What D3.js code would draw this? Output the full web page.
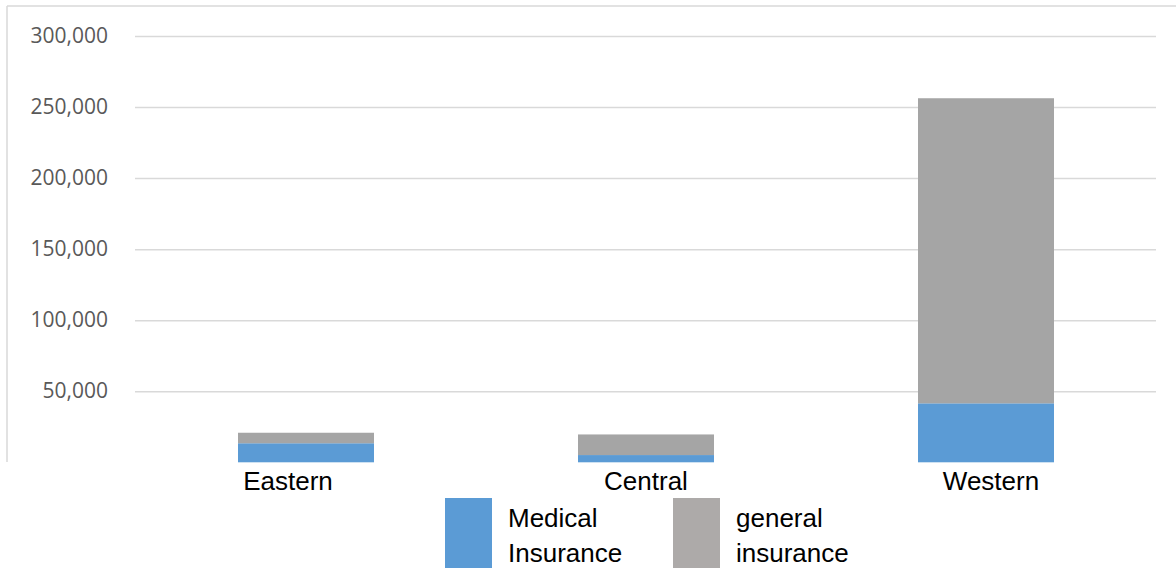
<!DOCTYPE html>
<html>
<head>
<meta charset="utf-8">
<script src="https://cdn.jsdelivr.net/npm/d3@7/dist/d3.min.js"></script>
<style>
  html, body { margin: 0; padding: 0; background: #fff; overflow: hidden; }
</style>
</head>
<body>
<svg width="1176" height="568"></svg>
<script>
// data
const categories = ["Eastern", "Central", "Western"];
const medical = [13400, 5100, 41500];
const general = [7400, 14500, 214700];
const yTicks = [50000, 100000, 150000, 200000, 250000, 300000];
const seriesNames = ["Medical\nInsurance", "general\ninsurance"];

const svg = d3.select("svg");
const width = +svg.attr("width");

const blue = "#5b9bd5";
const gray = "#a5a5a5";
// the category labels are not quite centred under their bars in the original
const labelShift = [-18, 0, 5];

// chart frame (only left and top edges visible)
svg.append("line").attr("x1", 7).attr("x2", 7).attr("y1", 6).attr("y2", 462)
  .attr("stroke", "#d9d9d9").attr("stroke-width", 1.5);
svg.append("line").attr("x1", 7).attr("x2", width).attr("y1", 6).attr("y2", 6)
  .attr("stroke", "#d9d9d9").attr("stroke-width", 1.5);

const x = d3.scaleBand()
  .domain(categories)
  .range([136, 1156])
  .paddingInner(0.6)
  .paddingOuter(0.3);

const y = d3.scaleLinear()
  .domain([0, 300000])
  .range([462.3, 36]);

// gridlines + labels
const yAxis = d3.axisLeft(y)
  .tickValues(yTicks)
  .tickSize(-(1156 - 135))
  .tickPadding(27)
  .tickFormat(d3.format(","));

const gy = svg.append("g")
  .attr("transform", "translate(135,0)")
  .call(yAxis);
gy.select(".domain").remove();
gy.selectAll(".tick line").attr("stroke", "#d9d9d9").attr("stroke-width", 1.5);
gy.selectAll(".tick text")
  .attr("fill", "#595959")
  .attr("font-family", "Open Sans")
  .attr("font-size", "21px");

// stacked bars
const rows = categories.map((c, i) => ({ cat: c, medical: medical[i], general: general[i] }));
const stack = d3.stack().keys(["medical", "general"])(rows);
const colors = [blue, gray];

svg.append("g").selectAll("g")
  .data(stack)
  .join("g")
  .attr("fill", (d, i) => colors[i])
  .selectAll("rect")
  .data(d => d)
  .join("rect")
  .attr("x", d => x(d.data.cat))
  .attr("width", x.bandwidth())
  .attr("y", d => y(d[1]))
  .attr("height", d => y(d[0]) - y(d[1]));

// category labels
svg.append("g").selectAll("text")
  .data(categories)
  .join("text")
  .attr("x", (d, i) => x(d) + x.bandwidth() / 2 + labelShift[i])
  .attr("y", 490)
  .attr("text-anchor", "middle")
  .attr("font-family", "Liberation Sans")
  .attr("font-size", "26px")
  .attr("fill", "#000")
  .text(d => d);

// legend
const legendX = [445, 673];
const legendColors = [blue, "#adaaa9"];
const legend = svg.append("g").selectAll("g")
  .data(seriesNames)
  .join("g")
  .attr("transform", (d, i) => `translate(${legendX[i]},0)`);

legend.append("rect")
  .attr("x", 0)
  .attr("y", 498)
  .attr("width", 47)
  .attr("height", 80)
  .attr("fill", (d, i) => legendColors[i]);

legend.append("text")
  .attr("font-family", "Liberation Sans")
  .attr("font-size", "26px")
  .attr("fill", "#000")
  .selectAll("tspan")
  .data(d => d.split("\n"))
  .join("tspan")
  .attr("x", 63)
  .attr("y", (d, i) => 527 + i * 35)
  .text(d => d);
</script>
</body>
</html>
